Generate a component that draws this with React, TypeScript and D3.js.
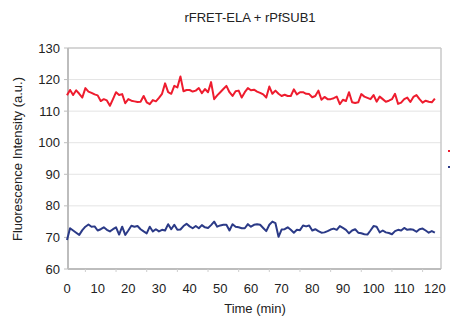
import React from "react";
import * as d3 from "d3";

const TITLE = "rFRET-ELA + rPfSUB1";
const X_LABEL = "Time (min)";
const Y_LABEL = "Fluorescence Intensity (a.u.)";
const X_TICKS = [0, 10, 20, 30, 40, 50, 60, 70, 80, 90, 100, 110, 120];
const Y_TICKS = [60, 70, 80, 90, 100, 110, 120, 130];

const RED_VALUES = [
  115.0, 116.7, 115.1, 116.6, 115.5, 114.3, 117.3, 116.2, 115.8, 115.3,
  115.0, 113.2, 113.8, 113.4, 111.7, 113.8, 116.0, 115.1, 115.4, 112.5,
  113.8, 113.3, 113.1, 112.9, 113.0, 114.8, 112.8, 112.2, 113.5, 113.1,
  114.2, 115.5, 118.8, 116.0, 115.5, 118.0, 117.5, 121.0, 116.3, 116.7,
  116.7, 116.2, 116.5, 117.3, 115.7, 117.0, 116.0, 119.2, 113.8, 115.0,
  116.0, 117.0, 118.0, 116.0, 114.8, 116.3, 116.5, 114.3, 116.0, 117.3,
  116.6, 116.8, 116.2, 115.8, 115.3, 114.3, 117.8, 115.5, 116.5, 115.5,
  114.8, 115.2, 114.8, 114.8, 116.9, 115.3, 116.0, 116.0, 115.5, 115.4,
  114.4, 114.8, 116.5, 113.6, 114.5, 113.8, 113.8, 114.1, 114.6, 112.2,
  113.6, 113.2, 116.0, 112.8, 112.6, 112.8, 115.4, 114.6, 114.2, 113.8,
  115.1, 113.0, 114.6, 113.8, 113.0, 113.3, 113.8, 115.5, 112.3, 112.7,
  113.8, 114.3, 112.9, 114.5, 115.1, 113.8, 112.7, 113.3, 113.0, 112.8,
  114.0,
];

const BLUE_VALUES = [
  69.2, 72.9, 72.2, 71.5, 70.8, 72.3, 73.4, 74.1, 73.4, 73.5,
  72.2, 72.6, 73.2, 72.4, 71.9, 72.6, 73.2, 70.9, 73.4, 70.8,
  72.2, 73.7, 73.4, 73.6, 72.6, 71.9, 71.3, 73.4, 71.9, 72.6,
  71.9, 72.4, 72.2, 74.2, 72.6, 74.0, 72.4, 72.5, 73.6, 74.3,
  73.5, 72.9, 73.6, 72.9, 73.9, 73.2, 73.0, 73.9, 75.0, 73.4,
  73.8, 74.0, 74.0, 72.2, 74.2, 73.4, 73.2, 72.9, 72.9, 74.2,
  73.4, 74.0, 74.2, 74.0, 73.0, 72.0, 74.0, 75.0, 74.5, 70.2,
  72.5, 72.6, 73.2, 72.4, 71.5, 72.4, 72.3, 73.8, 73.5, 73.8,
  72.2, 72.6, 72.0, 71.5, 71.6, 72.0, 72.5, 72.8, 72.4, 73.6,
  73.0, 72.4, 71.3, 72.2, 72.6, 71.5, 71.3, 71.0, 70.9, 72.2,
  73.6, 73.4, 71.6, 72.2, 71.6, 71.4, 71.0, 72.0, 72.4, 72.2,
  73.0, 72.4, 72.6, 72.4, 71.8, 72.6, 72.8, 72.2, 71.5, 72.0,
  71.5,
];

const RED = "#ee1c2e";
const BLUE = "#2b3a87";
const FONT = "'Liberation Sans', Arial, sans-serif";

export default function App() {
  const W = 451;
  const H = 320;
  const left = 68;
  const right = 441;
  const top = 48;
  const bottom = 269;

  const x = d3.scaleLinear().domain([0, 122]).range([67, right]);
  const y = d3.scaleLinear().domain([60, 130]).range([bottom, top]);

  const line = d3
    .line<number>()
    .x((_, i) => x(i))
    .y((d) => y(d));

  const minorTicks = d3.range(6, 122, 10);

  return (
    <svg
      width={W}
      height={H}
      style={{ position: "absolute", left: 0, top: 0, background: "#fff" }}
      fontFamily={FONT}
    >
      <text x={250} y={22} textAnchor="middle" fontSize={13} fill="#222">
        {TITLE}
      </text>

      {/* gridlines */}
      {Y_TICKS.filter((t) => t !== 60 && t !== 130).map((t) => (
        <line key={t} x1={left} x2={right} y1={y(t)} y2={y(t)} stroke="#e4e4e4" strokeWidth={1} />
      ))}

      {/* frame */}
      <line x1={left} x2={right} y1={top} y2={top} stroke="#c8c8c8" strokeWidth={1.5} />
      <line x1={right} x2={right} y1={top} y2={bottom} stroke="#c8c8c8" strokeWidth={1.5} />
      <line x1={left} x2={left} y1={top} y2={bottom} stroke="#bdbdbd" strokeWidth={2} />
      <line x1={left} x2={right} y1={bottom} y2={bottom} stroke="#bdbdbd" strokeWidth={2} />

      {/* y ticks */}
      {Y_TICKS.map((t) => (
        <g key={t}>
          <line x1={left - 4} x2={left} y1={y(t)} y2={y(t)} stroke="#bdbdbd" strokeWidth={1} />
          <text x={60} y={y(t) + 4.5} textAnchor="end" fontSize={13} fill="#222">
            {t}
          </text>
        </g>
      ))}

      {/* x ticks */}
      {minorTicks.map((t) => (
        <line key={t} x1={x(t)} x2={x(t)} y1={bottom} y2={bottom + 3} stroke="#cfcfcf" strokeWidth={1} />
      ))}
      {X_TICKS.map((t) => (
        <text key={t} x={x(t)} y={293} textAnchor="middle" fontSize={13} fill="#222">
          {t}
        </text>
      ))}

      <text x={255} y={313} textAnchor="middle" fontSize={13} fill="#222">
        {X_LABEL}
      </text>
      <text
        transform={`translate(22, 159) rotate(-90)`}
        textAnchor="middle"
        fontSize={13}
        fill="#222"
      >
        {Y_LABEL}
      </text>

      <path d={line(RED_VALUES) || ""} fill="none" stroke={RED} strokeWidth={2} strokeLinejoin="round" />
      <path d={line(BLUE_VALUES) || ""} fill="none" stroke={BLUE} strokeWidth={2} strokeLinejoin="round" />

      {/* truncated legend markers */}
      <rect x={448} y={150} width={2} height={2} fill={RED} />
      <rect x={448} y={166} width={2} height={2} fill={BLUE} />
    </svg>
  );
}
